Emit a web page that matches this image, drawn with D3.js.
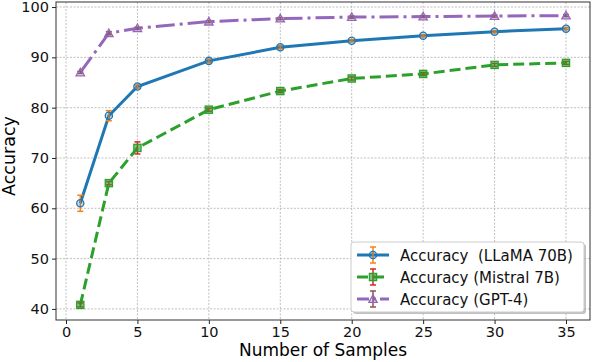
<!DOCTYPE html>
<html>
<head>
<meta charset="utf-8">
<script src="https://cdn.jsdelivr.net/npm/d3@7"></script>
<style>
body { margin: 0; background: #fff; }
text { font-family: "DejaVu Sans", sans-serif; white-space: pre; }
</style>
</head>
<body>
<script>
var samples = [1, 3, 5, 10, 15, 20, 25, 30, 35];
var llama = [61.0, 78.4, 84.2, 89.3, 92.0, 93.3, 94.3, 95.1, 95.7];
var llamaErr = [1.6, 1.0, 0.3, 0.3, 0.3, 0.2, 0.2, 0.2, 0.2];
var mistral = [40.8, 65.0, 72.0, 79.6, 83.3, 85.8, 86.7, 88.5, 88.9];
var mistralErr = [0.4, 0.3, 1.2, 0.3, 0.3, 0.3, 0.3, 0.3, 0.3];
var gpt4 = [87.0, 94.8, 95.8, 97.1, 97.7, 98.0, 98.1, 98.2, 98.3];
var gpt4Err = [0.2, 0.3, 0.2, 0.2, 0.2, 0.2, 0.2, 0.2, 0.2];
var xTicks = [0, 5, 10, 15, 20, 25, 30, 35];
var yTicks = [40, 50, 60, 70, 80, 90, 100];

var series = [
	{ name: "Accuracy  (LLaMA 70B)", values: llama, err: llamaErr, color: "#1f77b4", errColor: "#ff7f0e", marker: "circle", dash: null },
	{ name: "Accuracy (Mistral 7B)", values: mistral, err: mistralErr, color: "#2ca02c", errColor: "#d62728", marker: "square", dash: "11,5" },
	{ name: "Accuracy (GPT-4)", values: gpt4, err: gpt4Err, color: "#9467bd", errColor: "#8c564b", marker: "triangle", dash: "19,5,3,5" }
];

var W = 592, H = 362;
var margin = { top: 2, right: 2, bottom: 42, left: 56 };
var width = W - margin.left - margin.right, height = H - margin.top - margin.bottom;

var svg = d3.select("body").append("svg")
	.attr("width", W).attr("height", H)
	.append("g")
	.attr("transform", "translate(" + margin.left + "," + margin.top + ")");

var x = d3.scaleLinear().domain([-0.7, 36.68]).range([0, width]);
var y = d3.scaleLinear().domain([37.8, 101]).range([height, 0]);

// grid
svg.append("g").selectAll("line").data(xTicks).enter().append("line")
	.attr("x1", d => x(d)).attr("x2", d => x(d)).attr("y1", 0).attr("y2", height)
	.attr("stroke", "#b0b0b0").attr("stroke-width", 0.8).attr("stroke-dasharray", "2,1.5");
svg.append("g").selectAll("line").data(yTicks).enter().append("line")
	.attr("y1", d => y(d)).attr("y2", d => y(d)).attr("x1", 0).attr("x2", width)
	.attr("stroke", "#b0b0b0").attr("stroke-width", 0.8).attr("stroke-dasharray", "2,1.5");

// axes
var xAxis = svg.append("g").attr("transform", "translate(0," + height + ")")
	.call(d3.axisBottom(x).tickValues(xTicks).tickSize(4).tickPadding(3));
var yAxis = svg.append("g")
	.call(d3.axisLeft(y).tickValues(yTicks).tickSize(4).tickPadding(3));
[xAxis, yAxis].forEach(function (a) {
	a.select(".domain").remove();
	a.selectAll("line").attr("stroke", "#222");
	a.selectAll("text").attr("font-size", "14.5px").attr("fill", "#111")
		.attr("font-family", "DejaVu Sans, sans-serif");
});

svg.append("rect").attr("width", width).attr("height", height)
	.attr("fill", "none").attr("stroke", "#333").attr("stroke-width", 1);

svg.append("text").attr("x", 323 - margin.left).attr("y", 356 - margin.top)
	.attr("text-anchor", "middle").attr("font-size", "17px").text("Number of Samples");
svg.append("text").attr("transform", "translate(" + (15 - margin.left) + "," + (156 - margin.top) + ") rotate(-90)")
	.attr("text-anchor", "middle").attr("font-size", "17.5px").text("Accuracy");

function drawMarker(g, type, cx, cy, color) {
	if (type === "circle") {
		g.append("circle").attr("cx", cx).attr("cy", cy).attr("r", 3.6)
			.attr("fill", color).attr("fill-opacity", 0.25).attr("stroke", color).attr("stroke-width", 1.3);
	} else if (type === "square") {
		g.append("rect").attr("x", cx - 3.6).attr("y", cy - 3.6).attr("width", 7.2).attr("height", 7.2)
			.attr("fill", color).attr("fill-opacity", 0.6).attr("stroke", color).attr("stroke-width", 1.3);
	} else {
		var s = 4.2;
		g.append("path").attr("d", "M" + cx + "," + (cy - s) + "L" + (cx + s) + "," + (cy + s * 0.8) + "L" + (cx - s) + "," + (cy + s * 0.8) + "Z")
			.attr("fill", color).attr("fill-opacity", 0.25).attr("stroke", color).attr("stroke-width", 1.3);
	}
}

var line = d3.line().x(d => x(d[0])).y(d => y(d[1]));

series.forEach(function (s) {
	var g = svg.append("g");
	var pts = samples.map((v, i) => [v, s.values[i], s.err[i]]);
	g.append("path").datum(pts).attr("d", line)
		.attr("fill", "none").attr("stroke", s.color).attr("stroke-width", 3)
		.attr("stroke-dasharray", s.dash);
	pts.forEach(function (p) {
		var px = x(p[0]);
		g.append("line").attr("x1", px).attr("x2", px).attr("y1", y(p[1] - p[2])).attr("y2", y(p[1] + p[2]))
			.attr("stroke", s.errColor).attr("stroke-width", 1.5);
		[p[1] - p[2], p[1] + p[2]].forEach(function (v) {
			g.append("line").attr("x1", px - 3).attr("x2", px + 3).attr("y1", y(v)).attr("y2", y(v))
				.attr("stroke", s.errColor).attr("stroke-width", 1.5);
		});
		drawMarker(g, s.marker, px, y(p[1]), s.color);
	});
});

// legend (with a light shadow like matplotlib's shadow=True)
var lg = svg.append("g").attr("transform", "translate(" + (351 - margin.left) + "," + (242 - margin.top) + ")");
lg.append("rect").attr("x", 2).attr("y", 2).attr("width", 233).attr("height", 70).attr("rx", 3)
	.attr("fill", "#999").attr("fill-opacity", 0.6);
lg.append("rect").attr("width", 233).attr("height", 70).attr("rx", 3)
	.attr("fill", "#fff").attr("stroke", "#ccc");
series.forEach(function (s, i) {
	var cy = 13 + i * 22;
	lg.append("line").attr("x1", 6).attr("x2", 38).attr("y1", cy).attr("y2", cy)
		.attr("stroke", s.color).attr("stroke-width", 3).attr("stroke-dasharray", s.dash ? (i === 1 ? "11,5" : "12,4,3,4") : null);
	lg.append("line").attr("x1", 22).attr("x2", 22).attr("y1", cy - 8).attr("y2", cy + 8)
		.attr("stroke", s.errColor).attr("stroke-width", 1.5);
	[cy - 8, cy + 8].forEach(function (v) {
		lg.append("line").attr("x1", 19).attr("x2", 25).attr("y1", v).attr("y2", v)
			.attr("stroke", s.errColor).attr("stroke-width", 1.5);
	});
	drawMarker(lg, s.marker, 22, cy, s.color);
	lg.append("text").attr("x", 49).attr("y", cy + 5.5).attr("font-size", "15px").attr("fill", "#111").text(s.name);
});
</script>
</body>
</html>
